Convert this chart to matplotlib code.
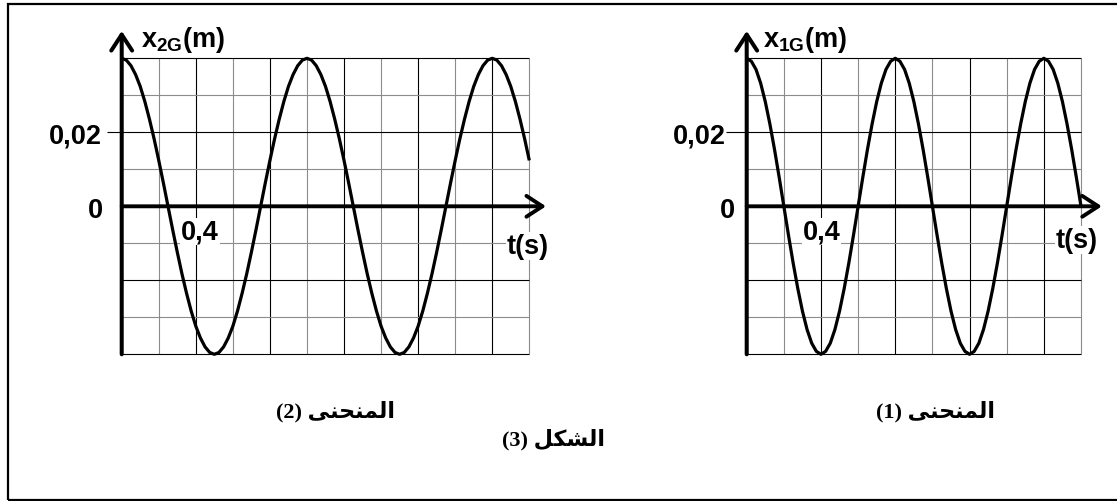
import numpy as np
import matplotlib
matplotlib.use("Agg")
import matplotlib.pyplot as plt
from matplotlib.patches import Rectangle

plt.rcParams['font.family'] = ['Liberation Sans', 'DejaVu Sans']
plt.rcParams['font.weight'] = 'bold'
plt.rcParams['mathtext.fontset'] = 'custom'
plt.rcParams['mathtext.rm'] = 'Liberation Sans:bold'
plt.rcParams['mathtext.it'] = 'Liberation Sans:bold'
plt.rcParams['mathtext.bf'] = 'Liberation Sans:bold'

# values every 0.025 s (metres)
step = 0.025
x2G = [0.0400, 0.0395, 0.0380, 0.0356, 0.0324, 0.0283, 0.0235, 0.0182, 0.0124, 0.0063,
       0.0000, -0.0063, -0.0124, -0.0182, -0.0235, -0.0283, -0.0324, -0.0356, -0.0380, -0.0395,
       -0.0400, -0.0395, -0.0380, -0.0356, -0.0324, -0.0283, -0.0235, -0.0182, -0.0124, -0.0063,
       0.0000, 0.0063, 0.0124, 0.0182, 0.0235, 0.0283, 0.0324, 0.0356, 0.0380, 0.0395,
       0.0400, 0.0395, 0.0380, 0.0356, 0.0324, 0.0283, 0.0235, 0.0182, 0.0124, 0.0063,
       0.0000, -0.0063, -0.0124, -0.0182, -0.0235, -0.0283, -0.0324, -0.0356, -0.0380, -0.0395,
       -0.0400, -0.0395, -0.0380, -0.0356, -0.0324, -0.0283, -0.0235, -0.0182, -0.0124, -0.0063,
       0.0000, 0.0063, 0.0124, 0.0182, 0.0235, 0.0283, 0.0324, 0.0356, 0.0380, 0.0395,
       0.0400, 0.0395, 0.0380, 0.0356, 0.0324, 0.0283, 0.0235, 0.0182, 0.0124]
x1G = [0.0400, 0.0392, 0.0370, 0.0333, 0.0283, 0.0222, 0.0153, 0.0078,
       0.0000, -0.0078, -0.0153, -0.0222, -0.0283, -0.0333, -0.0370, -0.0392,
       -0.0400, -0.0392, -0.0370, -0.0333, -0.0283, -0.0222, -0.0153, -0.0078,
       0.0000, 0.0078, 0.0153, 0.0222, 0.0283, 0.0333, 0.0370, 0.0392,
       0.0400, 0.0392, 0.0370, 0.0333, 0.0283, 0.0222, 0.0153, 0.0078,
       0.0000, -0.0078, -0.0153, -0.0222, -0.0283, -0.0333, -0.0370, -0.0392,
       -0.0400, -0.0392, -0.0370, -0.0333, -0.0283, -0.0222, -0.0153, -0.0078,
       0.0000, 0.0078, 0.0153, 0.0222, 0.0283, 0.0333, 0.0370, 0.0392,
       0.0400, 0.0392, 0.0370, 0.0333, 0.0283, 0.0222, 0.0153, 0.0078,
       0.0000]
t2 = np.arange(len(x2G)) * step
t1 = np.arange(len(x1G)) * step

# axis ranges / graduations
t2_end, t1_end = 2.2, 1.8
t_div, x_div = 0.2, 0.01
x_min, x_max = -0.04, 0.04

# texts (arabic written in display order, presentation forms)
curve2_title = "(2) \ufef0\ufee8\ufea4\ufee8\ufee4\ufedf\ufe8d"
curve1_title = "(1) \ufef0\ufee8\ufea4\ufee8\ufee4\ufedf\ufe8d"
figure_title = "(3) \ufede\ufedc\ufeb8\ufedf\ufe8d"

W, H = 1117, 502
GRAY = '#8c8c8c'
FS = 19.5


def fig_box(l, t, r, b):
    return [l / W, 1 - b / H, (r - l) / W, (b - t) / H]


def draw_graph(ax, t, x, t_end, ylabel, lab):
    ax.set_xlim(0, t_end)
    ax.set_ylim(x_min, x_max)
    ax.axis('off')

    vt = np.round(np.arange(0, t_end + 1e-9, t_div), 2)
    hx = np.round(np.arange(x_min, x_max + 1e-9, x_div), 3)
    ax.vlines(vt[1::2], x_min, x_max, colors=GRAY, lw=0.8, zorder=1, clip_on=False)
    ax.vlines(vt[::2], x_min, x_max, colors='black', lw=0.8, zorder=1, clip_on=False)
    ax.hlines(hx[1::2], 0, t_end, colors=GRAY, lw=0.8, zorder=1, clip_on=False)
    ax.hlines(hx[::2], 0, t_end, colors='black', lw=0.8, zorder=1, clip_on=False)
    ax.hlines(0.02, lab['tick'], 0, colors='black', lw=0.8, zorder=1, clip_on=False)

    head = '->,head_length=11.5,head_width=7.5'
    ax.annotate('', xy=(lab['tip'], 0), xytext=(0, 0), annotation_clip=False,
                arrowprops=dict(arrowstyle=head, mutation_scale=1, lw=2.8,
                                color='black', shrinkA=0, shrinkB=0), zorder=3)
    ax.annotate('', xy=(0, 0.0474), xytext=(0, x_min), annotation_clip=False,
                arrowprops=dict(arrowstyle=head, mutation_scale=1, lw=2.9,
                                color='black', shrinkA=0, shrinkB=0), zorder=3)

    ax.plot(t, x, color='black', lw=2.3, zorder=4, clip_on=False,
            solid_joinstyle='round', solid_capstyle='butt')

    box = dict(facecolor='white', edgecolor='none', pad=0.5)
    ax.text(lab['ylab_t'], 0.0432, ylabel, fontsize=FS, ha='left', va='baseline')
    ax.text(lab['v02_t'], 0.0173, '0,02', fontsize=FS, ha='right', va='baseline')
    ax.text(lab['zero_t'], -0.0029, '0', fontsize=FS, ha='right', va='baseline')
    ax.text(lab['v04_t'], -0.0087, '0,4', fontsize=FS, ha='center', va='baseline',
            bbox=box, zorder=2)
    ax.text(lab['ts_t'], lab['ts_x'], 't(s)', fontsize=FS, ha='center', va='baseline',
            bbox=box, zorder=2)


fig = plt.figure(figsize=(W / 100, H / 100), dpi=100)

ax2 = fig.add_axes(fig_box(121.7, 59.3, 529.3, 355.3))
draw_graph(ax2, t2, x2G, t2_end, r'$\mathrm{x_{2G}(m)}$',
           dict(tick=-0.081, tip=2.29, ylab_t=0.104, v02_t=-0.106, zero_t=-0.103,
                v04_t=0.423, ts_t=2.19, ts_x=-0.0126))

ax1 = fig.add_axes(fig_box(746.7, 59.3, 1081.0, 355.3))
draw_graph(ax1, t1, x1G, t1_end, r'$\mathrm{x_{1G}(m)}$',
           dict(tick=-0.111, tip=1.912, ylab_t=0.088, v02_t=-0.111, zero_t=-0.063,
                v04_t=0.403, ts_t=1.779, ts_x=-0.011))

arabic = dict(fontsize=16, fontweight='bold', ha='center', va='center',
              family=['Liberation Serif', 'DejaVu Sans'])
fig.text(336 / W, 1 - 412 / H, curve2_title, **arabic)
fig.text(935 / W, 1 - 412 / H, curve1_title, **arabic)
fig.text(554 / W, 1 - 440 / H, figure_title, **arabic)

# outer frame (right side runs off the picture)
fig.add_artist(Rectangle((7.7 / W, 1 - 500.5 / H), 1.2, (500.5 - 5) / H,
                         transform=fig.transFigure, fill=False, lw=1.6,
                         edgecolor='black'))

fig.savefig('out.png', dpi=100)
